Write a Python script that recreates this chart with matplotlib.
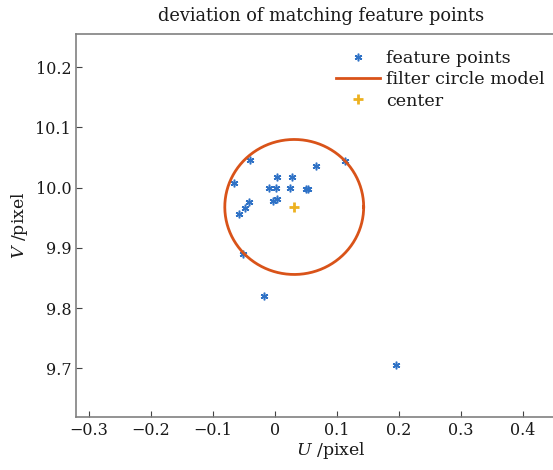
import numpy as np
import matplotlib
matplotlib.use('Agg')
import matplotlib.pyplot as plt

# feature point deviations (pixel)
u = [-0.040, 0.113, 0.066, -0.066, 0.003, 0.027, -0.009, 0.002, 0.024, 0.050, 0.054,
     -0.042, -0.048, -0.058, -0.004, 0.003, -0.051, -0.018, 0.195]
v = [10.046, 10.045, 10.036, 10.008, 10.018, 10.017, 9.999, 10.000, 10.000, 9.997, 9.997,
     9.976, 9.966, 9.957, 9.978, 9.981, 9.890, 9.821, 9.705]

center_u = 0.031
center_v = 9.968
radius = 0.112

xticks = [-0.3, -0.2, -0.1, 0, 0.1, 0.2, 0.3, 0.4]
xticklabels = ['\u22120.3', '\u22120.2', '\u22120.1', '0', '0.1', '0.2', '0.3', '0.4']
yticks = [9.7, 9.8, 9.9, 10.0, 10.1, 10.2]
yticklabels = ['9.7', '9.8', '9.9', '10.0', '10.1', '10.2']

plt.rcParams['font.family'] = 'DejaVu Serif'
plt.rcParams['mathtext.fontset'] = 'dejavuserif'

fig = plt.figure(figsize=(5.53, 4.70), dpi=100)
ax = fig.add_axes([76/553, 1-417/470, (585-76)/553, (417-34)/470])

ax.plot(u, v, linestyle='none', marker=(6, 2, 0), markersize=5.5, mew=1.1,
        color='#2f72c6', label='feature points')
t = np.linspace(0, 2*np.pi, 400)
ax.plot(center_u + radius*np.cos(t), center_v + radius*np.sin(t),
        color='#d95319', lw=2, label='filter circle model')
ax.plot([center_u], [center_v], linestyle='none', marker='+', markersize=7, mew=2,
        color='#edb120', label='center')

ax.set_xlim(-0.321, 0.5)
ax.set_ylim(9.6195, 10.255)
ax.set_xticks(xticks)
ax.set_xticklabels(xticklabels, fontsize=11.5)
ax.set_yticks(yticks)
ax.set_yticklabels(yticklabels, fontsize=11.5)
ax.tick_params(direction='in', length=4, width=0.8, colors='#444444', labelcolor='#1a1a1a')
for s in ax.spines.values():
    s.set_color('#808080')
    s.set_linewidth(1.2)

ax.set_xlabel(r'$\mathit{U}$ /pixel', fontsize=12.5, labelpad=1, color='#1a1a1a')
ax.set_ylabel(r'$\mathit{V}$ /pixel', fontsize=12.5, labelpad=4, color='#1a1a1a')
fig.text(321/553, 1-16/470, 'deviation of matching feature points', ha='center', va='center',
         fontsize=12.8, color='#1a1a1a')

leg = ax.legend(loc='upper left', bbox_to_anchor=((327-76)/509, 1-(41-34)/383),
                frameon=False, fontsize=12.6, handlelength=2.5, handletextpad=0.4,
                labelspacing=0.25, borderpad=0)
for txt in leg.get_texts():
    txt.set_color('#1a1a1a')

fig.savefig('out.png', dpi=100)
